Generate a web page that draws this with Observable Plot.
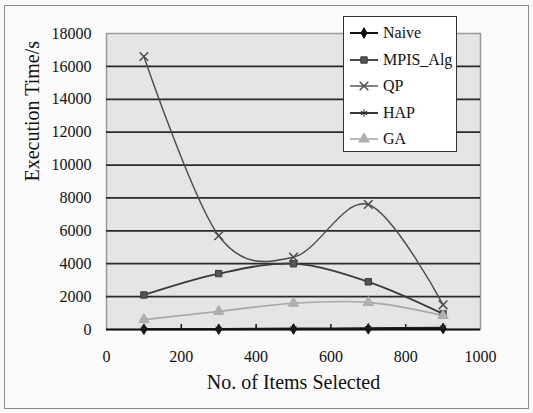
<!DOCTYPE html>
<html>
<head>
<meta charset="utf-8">
<script src="https://cdn.jsdelivr.net/npm/d3@7"></script>
<script src="https://cdn.jsdelivr.net/npm/@observablehq/plot@0.6"></script>
<style>
  html, body { margin: 0; padding: 0; background: #fbfbfb; }
  #wrap { position: relative; width: 533px; height: 413px; overflow: hidden; }
  #border { position: absolute; left: 4px; top: 5px; width: 525px; height: 404px; border: 1.5px solid #8a8a8a; box-sizing: border-box; pointer-events: none; }
  #legend { position: absolute; left: 343px; top: 16px; width: 114px; height: 136px; border: 1.5px solid #333; box-sizing: border-box; background: #fff; color: #111; }
  .row { position: absolute; left: 0; height: 20px; display: flex; align-items: center; }
  .row svg { margin-left: 6px; }
  .row span { margin-left: 5px; }
</style>
</head>
<body>
<div id="wrap"><div id="chart"></div><div id="legend" style="font-family:'Liberation Serif';font-size:16px"></div><div id="border"></div></div>
<script>
// ---- data ----
const items = [100, 300, 500, 700, 900];
const seriesNames = ["Naive", "MPIS_Alg", "QP", "HAP", "GA"];
const naive = [20, 20, 30, 40, 60];
const mpis  = [2100, 3400, 4000, 2900, 950];
const qp    = [16600, 5700, 4400, 7600, 1500];
const hap   = [30, 40, 60, 80, 120];
const ga    = [600, 1100, 1600, 1650, 850];
const yTicks = [0, 2000, 4000, 6000, 8000, 10000, 12000, 14000, 16000, 18000];
const xTicks = [0, 200, 400, 600, 800, 1000];
const gridValues = [2000, 4000, 6000, 8000, 10000, 12000, 14000, 16000];
const xTitle = "No. of Items Selected";
const yTitle = "Execution Time/s";

// ---- styles ----
const styles = {
  "Naive":    {color: "#111", fill: "#111", symbol: "diamond", width: 2, r: 3.2},
  "MPIS_Alg": {color: "#3a3a3a", fill: "#555", symbol: "square", width: 1.8, r: 3.6},
  "QP":       {color: "#4a4a4a", fill: "none", symbol: "times", width: 1.4, r: 4},
  "HAP":      {color: "#222", fill: "#222", symbol: "asterisk", width: 1.8, r: 3.5},
  "GA":       {color: "#a8a8a8", fill: "#b0b0b0", symbol: "triangle", width: 1.6, r: 3.8}
};

const valuesBySeries = {"Naive": naive, "MPIS_Alg": mpis, "QP": qp, "HAP": hap, "GA": ga};
const rows = [];
for (const name of seriesNames) {
  valuesBySeries[name].forEach((v, i) => rows.push({series: name, x: items[i], y: v}));
}

const marks = [
  Plot.frame({fill: "#e5e5e5", stroke: "#9a9a9a", strokeWidth: 1.5}),
  Plot.ruleY(gridValues, {stroke: "#2a2a2a", strokeWidth: 1.8}),
  Plot.axisY({ticks: yTicks, tickSize: 0, tickPadding: 15, tickFormat: d => String(d), fontSize: 16, label: null}),
  Plot.axisX({ticks: xTicks, tickSize: 0, tickPadding: 21, tickFormat: d => String(d), fontSize: 16, label: null}),
  Plot.ruleX(xTicks.slice(1, -1), {y1: 0, y2: 300, stroke: "#111", strokeWidth: 1.5}),
  Plot.text([yTitle], {text: d => d, frameAnchor: "left", dx: -74, rotate: -90, fontSize: 20, fill: "#111"}),
  Plot.text([xTitle], {text: d => d, frameAnchor: "bottom", dy: 59, fontSize: 20, fill: "#111"}),
];
for (const name of seriesNames) {
  const s = styles[name];
  const data = rows.filter(d => d.series === name);
  marks.push(Plot.line(data, {x: "x", y: "y", curve: "cardinal", stroke: s.color, strokeWidth: s.width}));
}
marks.push(Plot.ruleY([0], {stroke: "#111", strokeWidth: 2}));
for (const name of seriesNames) {
  const s = styles[name];
  const data = rows.filter(d => d.series === name);
  const filled = s.fill !== "none";
  marks.push(Plot.dot(data, {x: "x", y: "y", symbol: () => s.symbol, r: s.r,
    fill: filled ? s.fill : "none", stroke: s.color, strokeWidth: filled ? 1 : 1.5}));
}

const chart = Plot.plot({
  width: 533,
  height: 413,
  marginLeft: 106,
  marginRight: 53,
  marginTop: 33,
  marginBottom: 84,
  style: {fontFamily: "Liberation Serif", fontSize: "16px", color: "#111", background: "transparent"},
  x: {domain: [0, 1000]},
  y: {domain: [0, 18000]},
  symbol: {type: "identity"},
  marks
});
document.getElementById("chart").appendChild(chart);

// ---- legend ----
const legend = document.getElementById("legend");
const symbolTypes = {diamond: d3.symbolDiamond, square: d3.symbolSquare, times: d3.symbolTimes, asterisk: d3.symbolAsterisk, triangle: d3.symbolTriangle};
seriesNames.forEach((name, i) => {
  const s = styles[name];
  const row = document.createElement("div");
  row.className = "row";
  row.style.top = (6 + i * 26.6) + "px";
  const svg = d3.create("svg").attr("width", 28).attr("height", 20);
  svg.append("line").attr("x1", 0).attr("x2", 28).attr("y1", 10).attr("y2", 10)
    .attr("stroke", s.color).attr("stroke-width", s.width);
  const filled = s.fill !== "none";
  svg.append("path").attr("transform", "translate(14,10)")
    .attr("d", d3.symbol(symbolTypes[s.symbol], Math.PI * s.r * s.r)())
    .attr("fill", filled ? s.fill : "none").attr("stroke", s.color).attr("stroke-width", filled ? 1 : 1.5);
  row.appendChild(svg.node());
  const t = document.createElement("span");
  t.style.fontFamily = "Liberation Serif";
  t.textContent = name;
  row.appendChild(t);
  legend.appendChild(row);
});
</script>
</body>
</html>
